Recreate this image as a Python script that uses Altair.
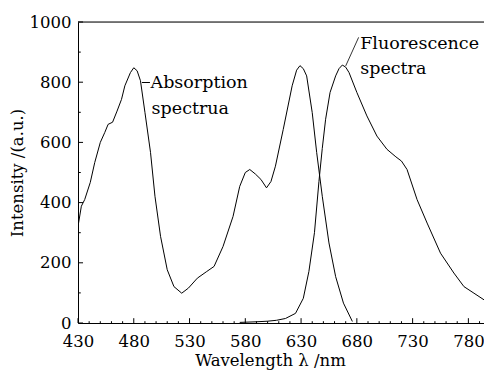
import altair as alt
import pandas as pd

abs_nm = [430, 433, 436, 441, 445, 450, 454, 457, 461, 465, 469, 472, 477, 480, 483, 486, 490, 495,
          499, 504, 510, 516, 523, 529, 537, 545, 552, 560, 569, 575, 580, 584, 589, 594, 599, 603,
          607, 614, 622, 626, 629, 632, 635, 640, 644, 649, 655, 661, 668, 676]
abs_i = [321, 388, 410, 467, 533, 600, 633, 660, 667, 704, 743, 788, 832, 848, 838, 805, 700, 567,
         421, 288, 177, 121, 99, 116, 149, 170, 188, 254, 354, 454, 500, 510, 495, 477, 449, 470,
         521, 643, 788, 840, 855, 845, 821, 699, 566, 421, 266, 154, 66, 5]

flu_nm = [575, 590, 600, 608, 616, 625, 632, 637, 642, 646, 649, 652, 656, 661, 664, 667, 670, 673,
          680, 689, 698, 707, 715, 720, 725, 734, 743, 755, 767, 776, 785, 794]
flu_i = [2, 4, 6, 9, 15, 32, 82, 171, 300, 470, 580, 677, 766, 821, 845, 857, 850, 832,
         766, 688, 621, 577, 552, 538, 510, 410, 332, 232, 166, 121, 99, 77]

x_ticks = [430, 480, 530, 580, 630, 680, 730, 780]
x_minor = [v for v in range(440, 795, 10) if v not in x_ticks]
y_ticks = [0, 200, 400, 600, 800, 1000]
y_minor = [100, 300, 500, 700, 900]

XDOM = [430, 794]
FONT = "DejaVu Serif"

df = pd.concat([
    pd.DataFrame({"nm": abs_nm, "I": abs_i, "s": "abs"}),
    pd.DataFrame({"nm": flu_nm, "I": flu_i, "s": "flu"}),
])

xs = alt.Scale(domain=XDOM, nice=False, zero=False)
ys = alt.Scale(domain=[0, 1000], nice=False)

lines = alt.Chart(df).mark_line(color="black", strokeWidth=1, clip=True).encode(
    x=alt.X("nm:Q", scale=xs, axis=alt.Axis(
        values=x_ticks, format="d", title="Wavelength λ /nm", grid=False, tickSize=0,
        labelPadding=10, domainColor="black", labelColor="black", titleColor="black",
        labelFont=FONT, titleFont=FONT, labelFontSize=16.5, titleFontSize=16.5,
        titleFontWeight="normal", titlePadding=3, titleX=192, labelFlush=False)),
    y=alt.Y("I:Q", scale=ys, axis=alt.Axis(
        values=y_ticks, format="d", title="Intensity /(a.u.)", grid=False, tickSize=0,
        labelPadding=7, domainColor="black", labelColor="black", titleColor="black",
        labelFont=FONT, titleFont=FONT, labelFontSize=16.5, titleFontSize=16.5,
        titleFontWeight="normal", titlePadding=4)),
    detail="s:N",
)

xt = pd.DataFrame({"v": x_ticks})
xm = pd.DataFrame({"v": x_minor})
yt = pd.DataFrame({"v": y_ticks})
ym = pd.DataFrame({"v": y_minor})

xmaj = alt.Chart(xt).mark_rule(color="black", strokeWidth=1).encode(
    x=alt.X("v:Q", scale=xs), y=alt.datum(0), y2=alt.datum(16))
xmin = alt.Chart(xm).mark_rule(color="black", strokeWidth=1).encode(
    x=alt.X("v:Q", scale=xs), y=alt.datum(0), y2=alt.datum(6))
ymaj = alt.Chart(yt).mark_rule(color="black", strokeWidth=1).encode(
    y=alt.Y("v:Q", scale=ys), x=alt.datum(430), x2=alt.datum(434.5))
ymin = alt.Chart(ym).mark_rule(color="black", strokeWidth=1).encode(
    y=alt.Y("v:Q", scale=ys), x=alt.datum(430), x2=alt.datum(432.5))

top = alt.Chart(pd.DataFrame({"a": [0]})).mark_rule(color="black", strokeWidth=1).encode(
    x=alt.datum(430), x2=alt.datum(794), y=alt.datum(1000))

lead_abs = alt.Chart(pd.DataFrame({"a": [0]})).mark_rule(color="black", strokeWidth=1).encode(
    x=alt.datum(487.3), x2=alt.datum(494.5), y=alt.datum(799), y2=alt.datum(799))
lead_flu = alt.Chart(pd.DataFrame({"a": [0]})).mark_rule(color="black", strokeWidth=0.8).encode(
    x=alt.datum(670), x2=alt.datum(681.6), y=alt.datum(854), y2=alt.datum(949))

lab_df = pd.DataFrame({
    "nm": [495, 496, 683, 683],
    "I": [797, 710, 927, 843],
    "t": ["Absorption", "spectrua", "Fluorescence", "spectra"],
})
labels = alt.Chart(lab_df).mark_text(
    align="left", baseline="middle", font=FONT, fontSize=17.5, color="black"
).encode(x=alt.X("nm:Q", scale=xs), y=alt.Y("I:Q", scale=ys), text="t:N")

chart = alt.layer(lines, xmaj, xmin, ymaj, ymin, top, lead_abs, lead_flu, labels).properties(
    width=406, height=301,
    autosize=alt.AutoSizeParams(type="none"),
    padding={"left": 78, "top": 22, "right": 0, "bottom": 47},
).configure_view(stroke=None).configure(background="white").configure_axis(
    labelFont=FONT, titleFont=FONT)

chart.save("out.html", embed_options={"renderer": "svg", "actions": False})
